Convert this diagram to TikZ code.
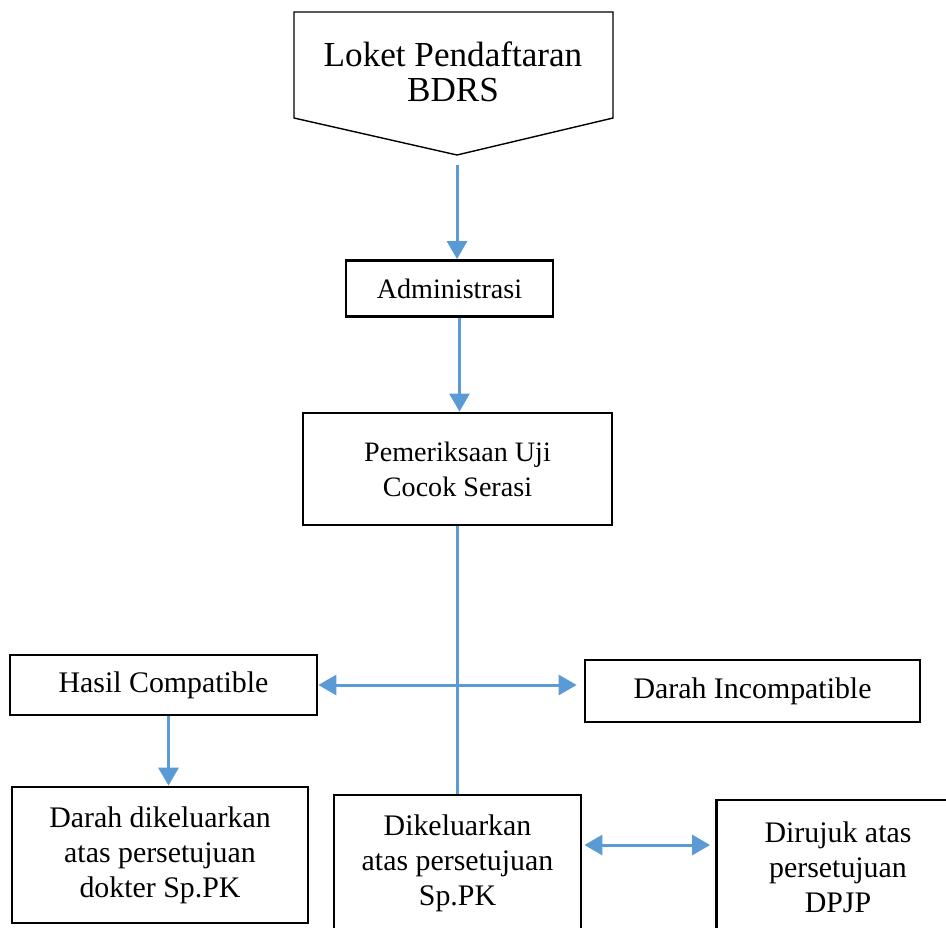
\documentclass[tikz,border=0pt]{standalone}
\usepackage{fontspec}
\setmainfont{Liberation Serif}
\usetikzlibrary{arrows.meta,calc}
\definecolor{flow}{HTML}{5B9BD5}

\begin{document}
\begin{tikzpicture}[x=0.02cm,y=-0.02cm,
  box/.style={draw,line width=1.6pt,inner sep=0pt,align=center,font=\fontsize{16}{20}\selectfont},
  lowbox/.style={box,font=\fontsize{17}{20}\selectfont},
  arr/.style={-{Triangle[length=0.36cm,width=0.4cm]},draw=flow,line width=1.7pt},
  arrs/.style={{Triangle[length=0.36cm,width=0.4cm]}-{Triangle[length=0.36cm,width=0.4cm]},draw=flow,line width=1.7pt},
  link/.style={draw=flow,line width=1.4pt}]

    \useasboundingbox (0,0) rectangle (946,927);

    \draw[line width=0.8pt] (294,12) -- (613,12) -- (613,118) -- (457,155) -- (294,118) -- cycle;
    \node[align=center,font=\fontsize{20}{20}\selectfont](loket) at (453,72){Loket Pendaftaran\\BDRS};
    \coordinate (tip) at (457,155);

    \node[box,minimum width=4.14cm,minimum height=1.12cm](admin) at (449.5,288.5){Administrasi};
    \node[box,minimum width=6.18cm,minimum height=2.24cm](pemer) at (457.5,469){Pemeriksaan Uji\\Cocok Serasi};

    \node[lowbox,minimum width=6.14cm,minimum height=1.2cm](hasil) at (163.5,685){Hasil Compatible};
    \node[lowbox,minimum width=6.7cm,minimum height=1.24cm](incomp) at (752.5,691){Darah Incompatible};

    \node[lowbox,minimum width=5.92cm,minimum height=2.72cm](darah) at (160,855){Darah dikeluarkan\\atas persetujuan\\dokter Sp.PK};
    \node[lowbox,minimum width=4.94cm,minimum height=2.72cm](dikel) at (457.5,863){Dikeluarkan\\atas persetujuan\\Sp.PK};
    \node[lowbox,minimum width=4.86cm,minimum height=2.68cm](dirujuk) at (838,867){Dirujuk atas\\persetujuan\\DPJP};
    \coordinate (lvl) at (0,845);

    \draw[arr]([yshift=-0.2cm]tip) -- (tip |- admin.north);
    \draw[arr]([xshift=0.2cm]admin.south) -- ([xshift=0.2cm]admin.south |- pemer.north);
    \draw[link](pemer) -- (dikel);
    \draw[arrs](hasil.east) -- ([xshift=-0.14cm]incomp.west |- hasil.east);
    \draw[arr]([xshift=0.1cm]hasil.south) -- ([xshift=0.1cm]hasil.south |- darah.north);
    \draw[arrs]([xshift=0.04cm]dikel.east |- lvl) -- ([xshift=-0.1cm]dirujuk.west |- lvl);
\end{tikzpicture}
\end{document}
